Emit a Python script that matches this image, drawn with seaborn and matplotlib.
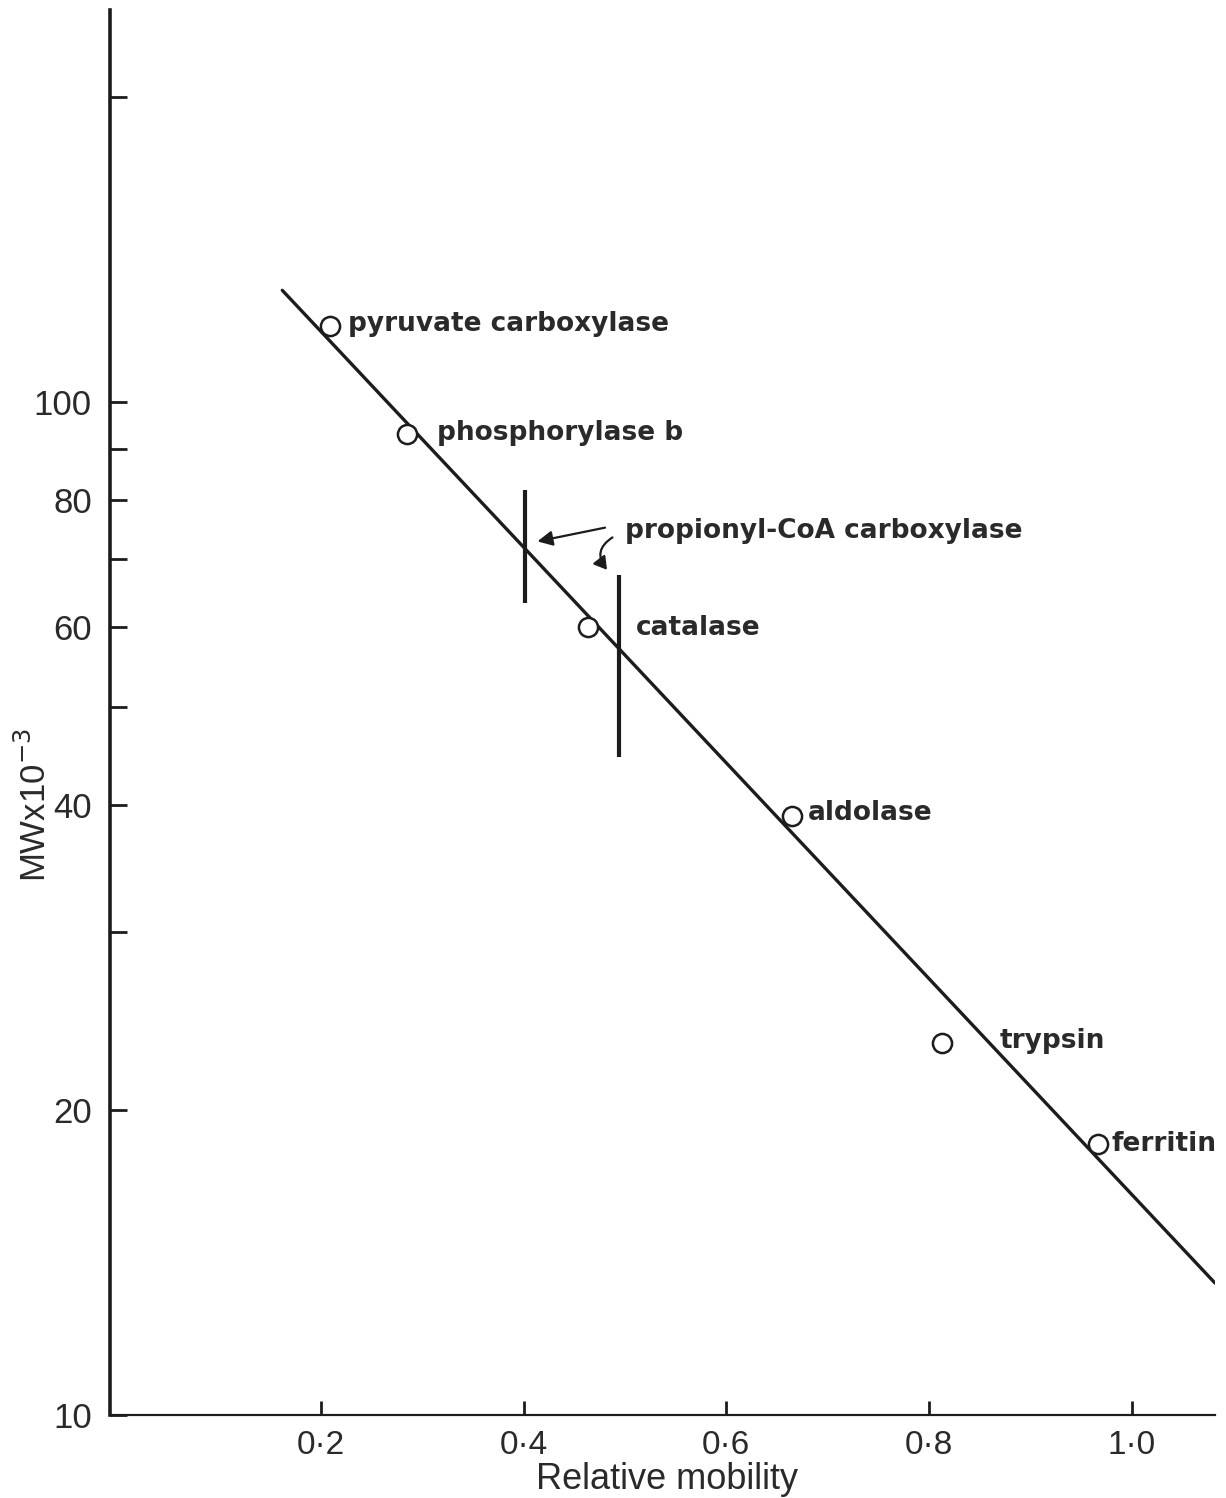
import matplotlib
matplotlib.use("Agg")
import matplotlib.pyplot as plt
from matplotlib.ticker import FixedLocator, FixedFormatter, NullLocator
from matplotlib.patches import FancyArrowPatch
import numpy as np
import pandas as pd
import seaborn as sns

# Marker proteins: relative mobility vs. subunit molecular weight (x10^-3)
proteins = ["pyruvate carboxylase", "phosphorylase b", "catalase",
            "aldolase", "trypsin", "ferritin"]
mobility = [0.209, 0.285, 0.4635, 0.665, 0.8126, 0.9665]
mw = [119, 93, 60, 39, 23.3, 18.5]

# Standard curve endpoints
line_mobility = [0.162, 1.082]
line_mw = [129, 13.5]

# Propionyl-CoA carboxylase subunit bands (mobility, MW range)
band_mobility = [0.401, 0.494]
band_mw_low = [63.3, 44.6]
band_mw_high = [81.9, 67.5]

# Axis ticks
x_ticks = [0.2, 0.4, 0.6, 0.8, 1.0]
x_tick_labels = ["0·2", "0·4", "0·6", "0·8", "1·0"]
y_ticks = [10, 20, 30, 40, 50, 60, 70, 80, 90, 100, 200]
y_tick_labels = ["10", "20", "", "40", "", "60", "", "80", "", "100", ""]

points = pd.DataFrame({"protein": proteins, "mobility": mobility, "mw": mw})
curve = pd.DataFrame({"mobility": line_mobility, "mw": line_mw})

sns.set_style("white")
plt.rcParams["font.family"] = ["Liberation Sans", "DejaVu Sans"]

ink = "#1c1c1c"
text_ink = "#2a2a2a"
fig = plt.figure(figsize=(12.26, 14.98), dpi=100)
ax = fig.add_axes([0.0897, 0.0554, 0.9013, 0.9379])

ax.set_yscale("log")
ax.set_xlim(-0.008, 1.082)
ax.set_ylim(10, 244)

# standard curve
sns.lineplot(data=curve, x="mobility", y="mw", ax=ax, color=ink, lw=2.4,
             zorder=2)

# open circles for the markers
sns.scatterplot(data=points, x="mobility", y="mw", ax=ax, marker="o", s=190,
                facecolor="white", edgecolor=ink, linewidth=1.8, zorder=3)

# bands as vertical bars
ax.vlines(band_mobility, band_mw_low, band_mw_high, color=ink, lw=3, zorder=3)

# label placement (left edge, vertical centre) in data coordinates
label_x = [0.227, 0.3146, 0.511, 0.680, 0.870, 0.980]
label_y = [119.5, 93.2, 59.9, 39.3, 23.4, 18.5]
label_font = dict(fontsize=19, fontweight="bold", family="DejaVu Sans",
                  color=text_ink)
for name, lx, ly in zip(proteins, label_x, label_y):
    ax.text(lx, ly, name, ha="left", va="center", **label_font)

ax.text(0.500, 74.6, "propionyl-CoA carboxylase", ha="left", va="center",
        **label_font)

# arrows to the two bands
ax.add_patch(FancyArrowPatch((0.483, 75.3), (0.411, 72.8),
                             arrowstyle="-|>,head_length=6,head_width=3",
                             color=ink, lw=1.6, mutation_scale=1.5,
                             zorder=4))
ax.add_patch(FancyArrowPatch((0.490, 73.8), (0.484, 68.0),
                             connectionstyle="arc3,rad=0.6",
                             arrowstyle="-|>,head_length=5,head_width=3",
                             color=ink, lw=1.6, mutation_scale=1.5,
                             zorder=4))

# axes styling
for side in ["top", "right"]:
    ax.spines[side].set_visible(False)
for side in ["left", "bottom"]:
    ax.spines[side].set_color(ink)
ax.spines["left"].set_linewidth(2.6)
ax.spines["bottom"].set_linewidth(1.6)

ax.xaxis.set_major_locator(FixedLocator(x_ticks))
ax.xaxis.set_major_formatter(FixedFormatter(x_tick_labels))
ax.yaxis.set_major_locator(FixedLocator(y_ticks))
ax.yaxis.set_major_formatter(FixedFormatter(y_tick_labels))
ax.yaxis.set_minor_locator(NullLocator())

ax.tick_params(axis="x", which="major", bottom=True, direction="in",
               length=10, width=2, color=ink, pad=11, labelsize=24,
               labelcolor=text_ink)
ax.tick_params(axis="y", which="major", left=True, direction="in",
               length=12, width=2, color=ink, pad=13, labelsize=25,
               labelcolor=text_ink)

ax.set_xlabel("Relative mobility", fontsize=26, color=text_ink,
              va="center")
ax.set_ylabel("MWx10$^{-3}$", fontsize=25, color=text_ink, va="center")
ax.xaxis.set_label_coords(0.504, -0.046)
ax.yaxis.set_label_coords(-0.068, 0.434)

fig.savefig("out.png", dpi=100, facecolor="white")
